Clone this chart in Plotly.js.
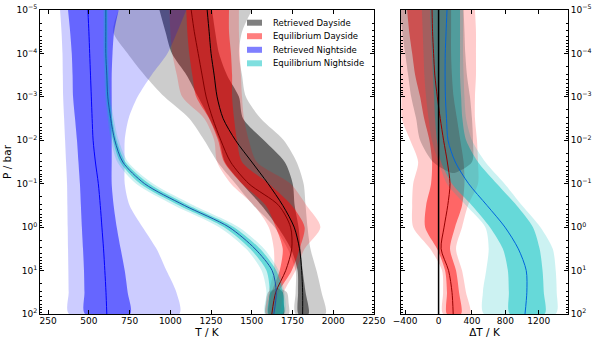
<!DOCTYPE html>
<html>
<head>
<meta charset="utf-8">
<script src="https://cdn.plot.ly/plotly-3.0.1.min.js"></script>
<style>
  html, body { margin: 0; padding: 0; background: #fff; }
  #plot { width: 598px; height: 342px; }
</style>
</head>
<body>
<div id="plot"></div>
<script>
// pressure levels in bar, half a decade apart
const P = [1e-5, 3.16e-5, 1e-4, 3.16e-4, 1e-3, 3.16e-3, 1e-2, 3.16e-2, 0.1, 0.316, 1, 3.16, 10, 31.6, 100];

// Retrieved dayside (K)
const dayRetMed = [1226, 1238, 1250, 1269, 1287, 1324, 1400, 1500, 1600, 1690, 1760, 1793, 1806, 1812, 1812];
const dayRet1Lo = [933, 970, 1010, 1100, 1170, 1240, 1300, 1335, 1440, 1560, 1660, 1740, 1781, 1784, 1787];
const dayRet1Hi = [1256, 1275, 1299, 1348, 1421, 1446, 1574, 1702, 1751, 1763, 1787, 1799, 1812, 1830, 1848];
const dayRet2Lo = [683, 650, 738, 842, 964, 1116, 1208, 1290, 1400, 1510, 1640, 1720, 1769, 1769, 1769];
const dayRet2Hi = [1501, 1440, 1421, 1440, 1464, 1555, 1696, 1775, 1818, 1830, 1842, 1860, 1897, 1928, 1952];
// small separate lobe near the bottom
const blobP = [25.1, 31.6, 56.2, 100];
const blob2Lo = [1655, 1600, 1586, 1586];
const blob2Hi = [1660, 1715, 1726, 1726];
const blob1Lo = [1657, 1615, 1604, 1604];
const blob1Hi = [1658, 1690, 1696, 1696];

// Equilibrium dayside (K)
const dayEqMed = [1128, 1147, 1171, 1195, 1220, 1260, 1310, 1370, 1482, 1665, 1738, 1745, 1708, 1647, 1623];
const dayEq1Lo = [1098, 1104, 1116, 1135, 1159, 1238, 1293, 1330, 1440, 1586, 1647, 1690, 1671, 1623, 1604];
const dayEq1Hi = [1360, 1360, 1372, 1379, 1379, 1391, 1409, 1440, 1604, 1745, 1824, 1793, 1745, 1665, 1635];
const dayEq2Lo = [994, 1000, 1012, 1040, 1073, 1208, 1269, 1287, 1372, 1513, 1604, 1635, 1635, 1604, 1586];
const dayEq2Hi = [1421, 1421, 1427, 1433, 1440, 1452, 1482, 1531, 1738, 1836, 1921, 1824, 1769, 1696, 1665];

// Retrieved nightside (K)
const nightRetMed = [494, 500, 505, 510, 515, 520, 526, 540, 558, 570, 580, 590, 598, 605, 610];
const nightRet1Lo = [372, 385, 395, 400, 403, 415, 427, 436, 445, 451, 457, 464, 470, 473, 476];
const nightRet1Hi = [683, 655, 645, 640, 640, 640, 640, 640, 640, 652, 671, 695, 720, 738, 753];
const nightRet2Lo = [323, 332, 338, 340, 342, 348, 354, 360, 366, 368, 370, 372, 374, 376, 378];
const nightRet2Hi = [1098, 1043, 982, 884, 799, 744, 720, 720, 720, 750, 830, 915, 976, 1037, 1055];

// Equilibrium nightside (K)
const nightEqMed = [604, 604, 604, 610, 616, 634, 659, 708, 842, 1086, 1360, 1520, 1625, 1650, 1635];
const nightEq1Lo = [597, 597, 597, 603, 608, 625, 648, 692, 815, 1055, 1330, 1490, 1590, 1610, 1600];
const nightEq1Hi = [611, 611, 611, 617, 624, 643, 670, 724, 870, 1115, 1390, 1550, 1650, 1690, 1690];
const nightEq2Lo = [589, 589, 589, 595, 600, 615, 635, 675, 790, 1025, 1300, 1465, 1560, 1590, 1580];
const nightEq2Hi = [619, 619, 619, 625, 632, 653, 683, 740, 895, 1145, 1420, 1575, 1665, 1700, 1700];

// Temperature differences, right panel (K)
const dDayMed = [-78, -72, -60, -45, -15, 20, 60, 105, 137, 110, 66, 30, 120, 161, 175];
const dDay1Lo = [-376, -352, -316, -280, -221, -173, -110, -78, -90, -149, -161, -18, 78, 101, 101];
const dDay1Hi = [150, 150, 150, 160, 180, 220, 260, 300, 310, 281, 197, 137, 209, 245, 269];
const dDay2Lo = [-460, -460, -460, -455, -445, -440, -340, -245, -304, -316, -304, -100, 42, 54, 54];
const dDay2Hi = [436, 448, 448, 448, 436, 436, 460, 472, 472, 352, 281, 209, 281, 328, 376];

const dNightMed = [101, 90, 80, 78, 82, 95, 113, 200, 360, 580, 795, 955, 1050, 1057, 1035];
const dNight1Lo = [-101, -90, -78, -66, -54, -42, -20, 30, 161, 400, 615, 770, 830, 842, 854];
const dNight1Hi = [257, 257, 257, 257, 270, 285, 330, 472, 698, 935, 1130, 1210, 1245, 1260, 1270];
const dNight2Lo = [-200, -190, -180, -170, -150, -120, -80, 0, 100, 330, 560, 600, 570, 531, 543];
const dNight2Hi = [293, 293, 293, 300, 310, 330, 400, 560, 790, 1000, 1220, 1367, 1403, 1415, 1403];

const grayP = [1e-5, 3.16e-5, 1e-4, 3.16e-4, 1e-3, 3.16e-3, 1e-2, 3.16e-2, 0.056];
const dGrayLo = [-460, -436, -400, -364, -328, -269, -221, -66, 150];
const dGrayHi = [300, 310, 320, 340, 376, 400, 412, 400, 200];

// axis ticks
const tTicks = [250, 500, 750, 1000, 1250, 1500, 1750, 2000, 2250];
const dtTicks = [-400, 0, 400, 800, 1200];
const pTicks = [1e-5, 1e-4, 1e-3, 1e-2, 1e-1, 1, 10, 100];
const pTickText = ['10<sup>−5</sup>', '10<sup>−4</sup>', '10<sup>−3</sup>', '10<sup>−2</sup>',
                   '10<sup>−1</sup>', '10<sup>0</sup>', '10<sup>1</sup>', '10<sup>2</sup>'];

const legendNames = ['Retrieved Dayside', 'Equilibrium Dayside', 'Retrieved Nightside', 'Equilibrium Nightside'];
const legendColors = ['rgba(0,0,0,0.5)', 'rgba(255,0,0,0.5)', 'rgba(0,0,255,0.5)', 'rgba(0,191,191,0.5)'];

function band(p, lo, hi, color, right) {
    return {
        x: lo.concat(hi.slice().reverse()),
        y: p.concat(p.slice().reverse()),
        xaxis: right ? 'x2' : 'x', yaxis: right ? 'y2' : 'y',
        type: 'scatter', mode: 'lines', fill: 'toself', fillcolor: color,
        line: { width: 0, shape: 'spline', smoothing: 0.8 },
        hoverinfo: 'skip', showlegend: false
    };
}

function median(vals, color, right) {
    return {
        x: vals, y: P,
        xaxis: right ? 'x2' : 'x', yaxis: right ? 'y2' : 'y',
        type: 'scatter', mode: 'lines',
        line: { color: color, width: 1, shape: 'spline', smoothing: 0.8 },
        hoverinfo: 'skip', showlegend: false
    };
}

const traces = [
    // left panel
    band(P, dayRet2Lo, dayRet2Hi, 'rgba(0,0,0,0.2)'),
    band(P, dayRet1Lo, dayRet1Hi, 'rgba(0,0,0,0.5)'),
    band(blobP, blob2Lo, blob2Hi, 'rgba(0,0,0,0.2)'),
    band(blobP, blob1Lo, blob1Hi, 'rgba(0,0,0,0.5)'),
    band(P, dayEq2Lo, dayEq2Hi, 'rgba(255,0,0,0.2)'),
    band(P, dayEq1Lo, dayEq1Hi, 'rgba(255,0,0,0.5)'),
    band(P, nightRet2Lo, nightRet2Hi, 'rgba(0,0,255,0.2)'),
    band(P, nightRet1Lo, nightRet1Hi, 'rgba(0,0,255,0.5)'),
    band(P, nightEq2Lo, nightEq2Hi, 'rgba(0,191,191,0.2)'),
    band(P, nightEq1Lo, nightEq1Hi, 'rgba(0,191,191,0.5)'),
    median(dayRetMed, 'black'),
    median(dayEqMed, 'rgb(130,0,0)'),
    median(nightRetMed, 'rgb(0,0,255)'),
    median(nightEqMed, 'rgb(30,80,170)'),
    // right panel
    band(P, dDay2Lo, dDay2Hi, 'rgba(255,0,0,0.2)', true),
    band(P, dDay1Lo, dDay1Hi, 'rgba(255,0,0,0.5)', true),
    band(P, dNight2Lo, dNight2Hi, 'rgba(0,191,191,0.2)', true),
    band(P, dNight1Lo, dNight1Hi, 'rgba(0,191,191,0.5)', true),
    band(grayP, dGrayLo, dGrayHi, 'rgba(0,0,0,0.2)', true),
    median(dDayMed, 'rgb(150,0,0)', true),
    median(dNightMed, 'rgb(0,100,220)', true)
];

// legend drawn by hand (matplotlib style, tight rows)
const W = 598, H = 342, ML = 40, MR = 30, MT = 10, MB = 28;
const px = x => (x - ML) / (W - ML - MR);
const py = y => 1 - (y - MT) / (H - MT - MB);
const rows = [22.7, 36.2, 49.8, 63.3];
const shapes = [{
    type: 'line', xref: 'x2', yref: 'y2 domain', x0: 0, x1: 0, y0: 0, y1: 1,
    line: { color: 'black', width: 1.5 }
}];
const annotations = [];
legendNames.forEach((name, i) => {
    shapes.push({
        type: 'rect', xref: 'paper', yref: 'paper',
        x0: px(247), x1: px(262), y0: py(rows[i] + 3), y1: py(rows[i] - 3),
        fillcolor: legendColors[i], line: { width: 0 }
    });
    annotations.push({
        xref: 'paper', yref: 'paper', x: px(271), y: py(rows[i]),
        xanchor: 'left', yanchor: 'middle', text: name, showarrow: false,
        font: { size: 8.5, color: 'black' }
    });
});

const axisBase = {
    showline: true, linecolor: 'black', linewidth: 1, mirror: 'ticks',
    ticks: 'inside', ticklen: 4, tickcolor: 'black', tickwidth: 1,
    showgrid: false, zeroline: false, automargin: false,
    tickfont: { size: 9, color: 'black' }
};
const logMinor = { ticks: 'inside', ticklen: 2, tickcolor: 'black', dtick: 'D1', showgrid: false };

const layout = {
    width: W, height: H,
    margin: { l: ML, r: MR, t: MT, b: MB },
    paper_bgcolor: 'white', plot_bgcolor: 'white',
    font: { family: 'DejaVu Sans', color: 'black' },
    showlegend: false,
    xaxis: Object.assign({}, axisBase, {
        domain: [0, px(374)], range: [200, 2250], tickvals: tTicks, anchor: 'y',
        ticklabelstandoff: -2,
        title: { text: 'T / K', font: { size: 10.5 }, standoff: 0 }
    }),
    yaxis: Object.assign({}, axisBase, {
        type: 'log', range: [2, -5], tickvals: pTicks, ticktext: pTickText, anchor: 'x',
        minor: logMinor,
        title: { text: 'P / bar', font: { size: 10.5 }, standoff: 2 }
    }),
    xaxis2: Object.assign({}, axisBase, {
        domain: [px(401), 1], range: [-450, 1550], tickvals: dtTicks, anchor: 'y2',
        ticklabelstandoff: -2,
        title: { text: 'ΔT / K', font: { size: 10.5 }, standoff: 0 }
    }),
    yaxis2: Object.assign({}, axisBase, {
        type: 'log', range: [2, -5], tickvals: pTicks, ticktext: pTickText,
        anchor: 'x2', side: 'right', minor: logMinor
    }),
    shapes: shapes,
    annotations: annotations
};

Plotly.newPlot('plot', traces, layout, { staticPlot: true });
</script>
</body>
</html>
